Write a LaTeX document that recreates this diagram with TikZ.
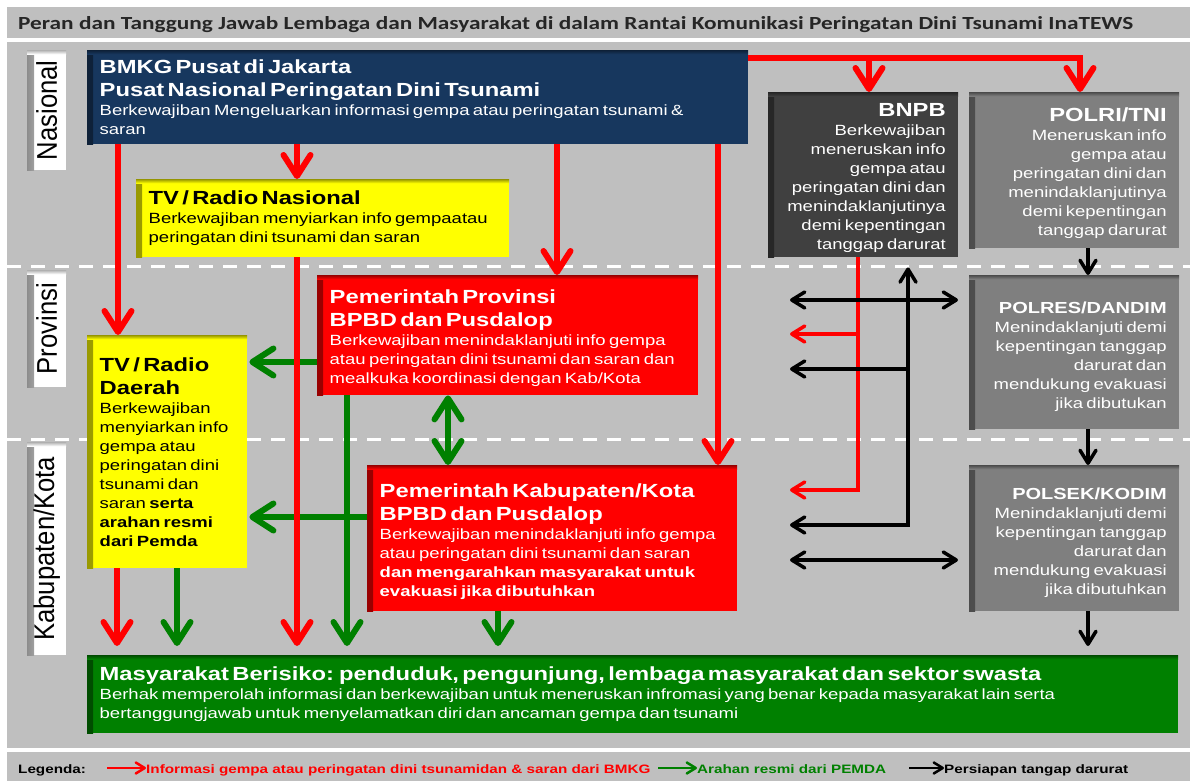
\documentclass[tikz,border=0pt]{standalone}
\usepackage{fontspec}
\setsansfont[FakeStretch=1.25]{Liberation Sans}
\newfontfamily\barfont[FakeStretch=1.26]{Carlito}
\newfontfamily\sidefont[FakeStretch=0.9]{Liberation Sans}
\renewcommand{\familydefault}{\sfdefault}
\usetikzlibrary{arrows.meta}

\definecolor{panelgray}{HTML}{BFBFBF}
\definecolor{bmkgblue}{HTML}{17375E}
\definecolor{bnpbgray}{HTML}{404040}
\definecolor{polgray}{HTML}{7F7F7F}
\definecolor{tvyellow}{HTML}{FFFF00}
\definecolor{pemdared}{HTML}{FF0000}
\definecolor{warga}{HTML}{008000}

\newcommand{\boxhead}{\fontsize{19}{23}\selectfont\bfseries}
\newcommand{\polhead}{\fontsize{16}{20}\selectfont\bfseries}
\newcommand{\boxbody}{\fontsize{14.8}{19}\selectfont}

\tikzset{
  panel/.style={anchor=north west, inner xsep=12.5pt, inner ysep=0pt, fill=#1,
    path picture={
      \shade[left color=#1!60!black, right color=#1]
        (path picture bounding box.north west) rectangle ([xshift=6pt]path picture bounding box.south west);
      \shade[top color=#1!60!black, bottom color=#1]
        (path picture bounding box.north west) rectangle ([yshift=-4pt]path picture bounding box.north east);
    }},
  lowtext/.style={execute at begin node={\rule{0pt}{20pt}}},
  levelbox/.style={anchor=north west, fill=white, minimum width=39pt, inner sep=0pt,
    path picture={
      \shade[left color=black!45, right color=white]
        (path picture bounding box.north west) rectangle ([xshift=7pt]path picture bounding box.south west);
      \shade[top color=black!30, bottom color=white]
        (path picture bounding box.north west) rectangle ([yshift=-4pt]path picture bounding box.north east);
    }},
  leveltext/.style={rotate=90, font=\sidefont\fontsize{28.5}{30}\selectfont},
  legendfont/.style={anchor=base west, inner sep=0pt, font=\bfseries\fontsize{12.2}{14}\selectfont},
  redarrow/.style={draw=pemdared, line width=6pt, -{Straight Barb[length=21pt,width=27pt,round]}},
  greenarrow/.style={draw=warga, line width=6pt, -{Straight Barb[length=21pt,width=27pt,round]}},
  greenboth/.style={greenarrow, {Straight Barb[length=21pt,width=27pt,round]}-{Straight Barb[length=21pt,width=27pt,round]}},
  thinred/.style={draw=pemdared, line width=3.5pt, -{Straight Barb[length=13pt,width=16pt,round]}},
  blackarrow/.style={draw=black, line width=3.5pt, -{Straight Barb[length=13pt,width=16pt,round]}},
  blackboth/.style={blackarrow, {Straight Barb[length=13pt,width=16pt,round]}-{Straight Barb[length=13pt,width=16pt,round]}},
  legarrow/.style={line width=2.5pt, -{Straight Barb[length=9pt,width=11pt,round]}},
  citizen/.style={shorten >=9pt}
}

\begin{document}
\begin{tikzpicture}[x=1pt, y=-1pt]
\useasboundingbox (0,0) rectangle (1190,781);

% bands
\fill[panelgray] (7,7) rectangle (1190,38);
\fill[panelgray] (7,42) rectangle (1190,748);
\fill[panelgray] (7,752) rectangle (1190,781);
\node[anchor=base west, inner sep=0pt, text=black!85, font=\barfont\bfseries\fontsize{18.5}{22}\selectfont] (judul) at (18,30)
  {Peran dan Tanggung Jawab Lembaga dan Masyarakat di dalam Rantai Komunikasi Peringatan Dini Tsunami InaTEWS};

\draw[white, line width=3pt, dash pattern=on 14pt off 10pt] (7,266) -- (1190,266);
\draw[white, line width=3pt, dash pattern=on 14pt off 10pt] (7,439) -- (1190,439);

% levels
\node[levelbox, minimum height=120pt, label={[leveltext]center:Nasional}] (nas) at (27,50) {};
\node[levelbox, minimum height=117pt, label={[leveltext]center:Provinsi}] (provlvl) at (27,270) {};
\node[levelbox, minimum height=213pt, label={[leveltext]center:Kabupaten/Kota}] (kablvl) at (27,442) {};

% nasional
\node[panel=bmkgblue, text=white, minimum width=661pt, minimum height=94pt, text width=636pt, align=left] (bmkg) at (87,50)
  {{\boxhead BMKG Pusat di Jakarta\\Pusat Nasional Peringatan Dini Tsunami\par}
   \boxbody Berkewajiban Mengeluarkan informasi gempa atau peringatan tsunami \&\\saran\par};
\node[panel=tvyellow, text=black, minimum width=373pt, minimum height=78pt, text width=348pt, align=left] (tvnas) at (136,179)
  {{\boxhead TV / Radio Nasional\par}
   \boxbody Berkewajiban menyiarkan info gempaatau\\peringatan dini tsunami dan saran\par};
\node[panel=bnpbgray, lowtext, text=white, minimum width=190pt, minimum height=165pt, text width=165pt, align=right] (bnpb) at (768,92)
  {{\boxhead BNPB\par}
   \boxbody Berkewajiban\\meneruskan info\\gempa atau\\peringatan dini dan\\menindaklanjutinya\\demi kepentingan\\tanggap darurat\par};
\node[panel=polgray, lowtext, text=white, minimum width=210pt, minimum height=156pt, text width=185pt, align=right] (polri) at (969,92)
  {{\boxhead POLRI/TNI\par}
   \boxbody Meneruskan info\\gempa atau\\peringatan dini dan\\menindaklanjutinya\\demi kepentingan\\tanggap darurat\par};

% provinsi
\node[panel=pemdared, lowtext, text=white, minimum width=381pt, minimum height=120pt, text width=356pt, align=left] (prov) at (317,275)
  {{\boxhead Pemerintah Provinsi\\BPBD dan Pusdalop\par}
   \boxbody Berkewajiban menindaklanjuti info gempa\\atau peringatan dini tsunami dan saran dan\\mealkuka koordinasi dengan Kab/Kota\par};
\node[panel=tvyellow, text=black, minimum width=160pt, minimum height=233pt, text width=135pt, align=left] (tvd) at (87,335)
  {{\boxhead TV / Radio\\Daerah\par}
   \boxbody Berkewajiban\\menyiarkan info\\gempa atau\\peringatan dini\\tsunami dan\\saran \textbf{serta}\\\textbf{arahan resmi}\\\textbf{dari Pemda}\par};
\node[panel=polgray, lowtext, text=white, minimum width=210pt, minimum height=154pt, text width=185pt, align=right] (polres) at (969,275)
  {{\polhead POLRES/DANDIM\par}
   \boxbody Menindaklanjuti demi\\kepentingan tanggap\\darurat dan\\mendukung evakuasi\\jika dibutukan\par};

% kabupaten/kota
\node[panel=pemdared, lowtext, text=white, minimum width=370pt, minimum height=146pt, text width=345pt, align=left] (kab) at (367,465)
  {{\boxhead Pemerintah Kabupaten/Kota\\BPBD dan Pusdalop\par}
   \boxbody Berkewajiban menindaklanjuti info gempa\\atau peringatan dini tsunami dan saran\\\textbf{dan mengarahkan masyarakat untuk}\\\textbf{evakuasi jika dibutuhkan}\par};
\node[panel=polgray, lowtext, text=white, minimum width=210pt, minimum height=146pt, text width=185pt, align=right] (polsek) at (969,465)
  {{\polhead POLSEK/KODIM\par}
   \boxbody Menindaklanjuti demi\\kepentingan tanggap\\darurat dan\\mendukung evakuasi\\jika dibutuhkan\par};
\node[panel=warga, text=white, minimum width=1091pt, minimum height=78pt, text width=1066pt, align=left] (warga) at (87,655)
  {{\boxhead Masyarakat Berisiko: penduduk, pengunjung, lembaga masyarakat dan sektor swasta\par}
   \boxbody Berhak memperolah informasi dan berkewajiban untuk meneruskan infromasi yang benar kepada masyarakat lain serta\\bertanggungjawab untuk menyelamatkan diri dan ancaman gempa dan tsunami\par};

% arahan pemda
\coordinate (provleft) at ([yshift=-87pt]prov.north west);
\coordinate (kableft) at ([yshift=-52pt]kab.north west);
\draw[greenarrow, shorten >=2pt] (provleft) -- (provleft -| tvd.east);
\draw[greenarrow, shorten >=2pt] (kableft) -- (kableft -| tvd.east);
\draw[greenarrow, citizen] ([xshift=30pt]prov.south west) -- ([xshift=260pt]warga.north west);
\draw[greenboth] ([xshift=131pt]prov.south west) -- ([xshift=81pt]kab.north west);
\draw[greenarrow, citizen] ([xshift=90pt]tvd.south west) -- ([xshift=90pt]warga.north west);
\draw[greenarrow, citizen] ([xshift=131pt]kab.south west) -- ([xshift=411pt]warga.north west);

% informasi BMKG
\draw[redarrow] ([xshift=31pt]bmkg.south west) -- ([xshift=31pt]tvd.north west);
\draw[redarrow] ([xshift=210pt]bmkg.south west) -- ([xshift=161pt]tvnas.north west);
\draw[redarrow, citizen] ([xshift=161pt]tvnas.south west) -- ([xshift=210pt]warga.north west);
\draw[redarrow] ([xshift=470pt]bmkg.south west) -- ([xshift=240pt]prov.north west);
\draw[redarrow] ([xshift=631pt]bmkg.south west) -- ([xshift=351pt]kab.north west);
\draw[redarrow, citizen] ([xshift=30pt]tvd.south west) -- ([xshift=30pt]warga.north west);
\coordinate (hub) at ([yshift=-8pt]bmkg.north east);
\coordinate (bnpbin) at ([xshift=101pt]bnpb.north west);
\draw[redarrow] (hub) -| ([xshift=111pt]polri.north west);
\draw[redarrow] (bnpbin |- hub) -- (bnpbin);

\coordinate (bnpbout) at ([xshift=90pt]bnpb.south west);
\coordinate (redprov) at (790,334);
\coordinate (redkab) at (790,490);
\draw[thinred] (bnpbout) |- (redkab);
\draw[thinred] (bnpbout |- redprov) -- (redprov);

% tanggap darurat
\coordinate (bnpbback) at ([xshift=140pt,yshift=-10pt]bnpb.south west);
\coordinate (blackprov) at (790,369);
\coordinate (blackkab) at (790,525);
\draw[blackboth] (blackkab) -| (bnpbback);
\draw[blackarrow] (bnpbback |- blackprov) -- (blackprov);
\coordinate (liaisonprov) at (790,300);
\coordinate (liaisonkab) at (790,560);
\draw[blackboth, shorten >=11pt] (liaisonprov) -- (liaisonprov -| polres.west);
\draw[blackboth, shorten >=11pt] (liaisonkab) -- (liaisonkab -| polsek.west);
\draw[blackarrow] ([xshift=119pt]polri.south west) -- ([xshift=119pt]polres.north west);
\draw[blackarrow] ([xshift=119pt]polres.south west) -- ([xshift=119pt]polsek.north west);
\draw[blackarrow, citizen] ([xshift=119pt]polsek.south west) -- ([xshift=1001pt]warga.north west);

% legenda
\node[legendfont] (legenda) at (18,773) {Legenda:};
\node[legendfont, text=pemdared] (legred) at (146,773) {Informasi gempa atau peringatan dini tsunamidan \& saran dari BMKG};
\node[legendfont, text=warga] (leggreen) at (697,773) {Arahan resmi dari PEMDA};
\node[legendfont, text=black] (legblack) at (944,773) {Persiapan tangap darurat};
\coordinate (legredtail) at (107,768);
\coordinate (leggreentail) at (658,768);
\coordinate (legblacktail) at (909,768);
\draw[legarrow, pemdared] (legredtail) -- (legredtail -| legred.west);
\draw[legarrow, warga] (leggreentail) -- (leggreentail -| leggreen.west);
\draw[legarrow, black] (legblacktail) -- (legblacktail -| legblack.west);
\end{tikzpicture}
\end{document}
